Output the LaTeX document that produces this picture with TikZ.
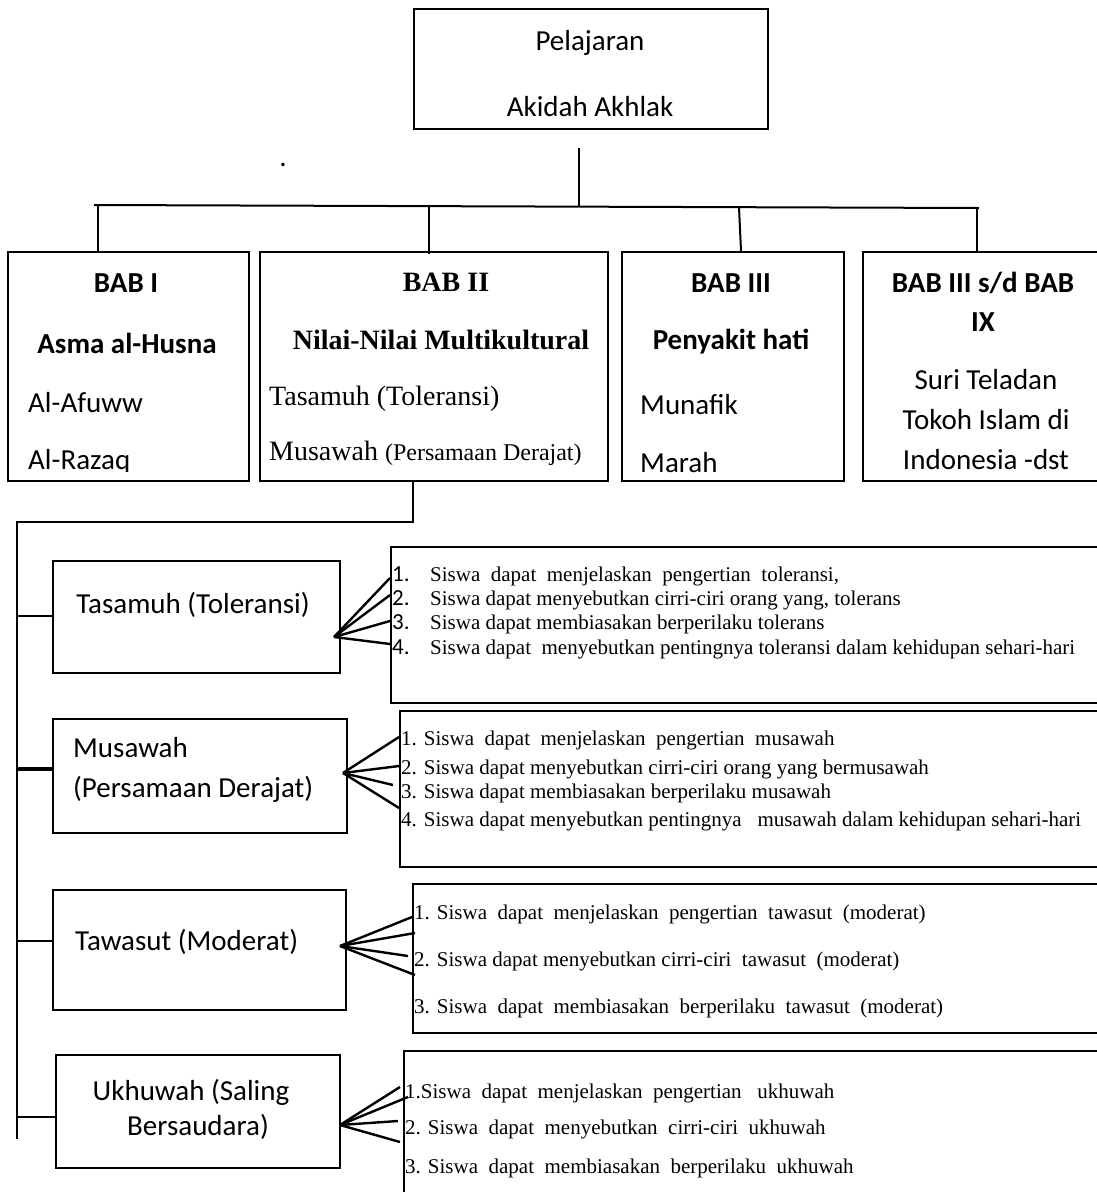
\documentclass[tikz,border=0pt]{standalone}
\usepackage{fontspec}
\setmainfont{Liberation Serif}
\newfontfamily\cali{Carlito}
\usetikzlibrary{positioning}

\tikzset{
	box/.style={draw, line width=2.2pt, anchor=north west, inner sep=0pt},
	sans/.style={font=\cali\fontsize{29}{34}\selectfont, inner sep=0pt},
	sansb/.style={font=\cali\bfseries\fontsize{29}{34}\selectfont, inner sep=0pt},
	rom/.style={font=\fontsize{28}{32}\selectfont, inner sep=0pt},
	romb/.style={font=\bfseries\fontsize{28}{32}\selectfont, inner sep=0pt},
	item/.style={font=\fontsize{21}{24}\selectfont, inner sep=0pt, anchor=base west},
	num/.style={font=\cali\fontsize{23}{26}\selectfont, inner sep=0pt, anchor=base west},
	link/.style={line width=2pt},
	fan/.style={line width=2.4pt}
}

\begin{document}
	\begin{tikzpicture}[x=1pt,y=-1pt]
		\useasboundingbox (0,0) rectangle (1097,1192);
		\node [box, minimum width=354pt, minimum height=120pt] (root) at (413,8) {};
		\node [sans] (root1) at (590,43) {Pelajaran};
		\node [sans] (root2) at (590,107) {Akidah Akhlak};
		\node [sans, anchor=base] (dot) at (283,166) {.};
		
		\node [box, minimum width=241pt, minimum height=229pt] (bab1) at (7,251) {};
		\node [box, minimum width=348pt, minimum height=229pt] (bab2) at (259,251) {};
		\node [box, minimum width=222pt, minimum height=229pt] (bab3) at (621,251) {};
		\node [box, minimum width=250pt, minimum height=229pt] (bab4) at (862,251) {};
		
		\node [sansb] (bab1a) at (126,283) {BAB I};
		\node [sansb] (bab1b) at (127,343) {Asma al-Husna};
		\node [sans, anchor=west] (bab1c) at (28,403) {Al-Afuww};
		\begin{scope}
			\clip (0,440) rectangle (240,471);
			\node [sans, anchor=west] (bab1d) at (28,462) {Al-Razaq};
		\end{scope}
		
		\node [romb] (bab2a) at (446,282) {BAB II};
		\node [romb] (bab2b) at (441,340) {Nilai-Nilai Multikultural};
		\node [rom, anchor=west] (bab2c) at (269,399) {Tasamuh (Toleransi)};
		\node [rom, anchor=west] (bab2d) at (269,453) {Musawah {\fontsize{24}{28}\selectfont(Persamaan Derajat)}};
		
		\node [sansb] (bab3a) at (731,283) {BAB III};
		\node [sansb] (bab3b) at (731,342) {Penyakit hati};
		\node [sans, anchor=west] (bab3c) at (640,405) {Munafik};
		\node [sans, anchor=west] (bab3d) at (640,463) {Marah};
		
		\node [sansb] (bab4a) at (983,283) {BAB III s/d BAB};
		\node [sansb] (bab4b) at (983,322) {IX};
		\node [sans] (bab4c) at (986,380) {Suri Teladan};
		\node [sans] (bab4d) at (986,420) {Tokoh Islam di};
		\node [sans] (bab4e) at (986,460) {Indonesia -dst};
		
		\coordinate (stem) at (579,148);
		\coordinate (stemEnd) at (579,206);
		\coordinate (busL) at (94,205);
		\coordinate (busR) at (979,208);
		\coordinate (d1) at (98,205.5);
		\coordinate (d2) at (429,206.5);
		\coordinate (d3) at (739,207);
		\coordinate (d4) at (977,208);
		\draw [link] (stem) -- (stemEnd);
		\draw [link] (busL) -- (busR);
		\draw [link] (d1) -- (d1 |- bab1.north);
		\draw [link] (d2) -- ([yshift=-3pt]d2 |- bab2.north);
		\draw [link] (d3) -- ([xshift=2pt]d3 |- bab3.north);
		\draw [link] (d4) -- (d4 |- bab4.north);
		
		\coordinate (turn) at (413,522);
		\coordinate (trunk) at (17,522);
		\coordinate (trunkEnd) at (17,1139);
		\draw [link] (turn |- bab2.south) -- (turn) -- (trunk) -- (trunkEnd);
		
		\node [box, minimum width=287pt, minimum height=112pt] (tas) at (52,560) {};
		\node [box, minimum width=294pt, minimum height=114pt] (mus) at (52,718) {};
		\node [box, minimum width=293pt, minimum height=120pt] (taw) at (52,889) {};
		\node [box, minimum width=284pt, minimum height=113pt] (ukh) at (55,1054) {};
		
		\node [sans] (tas1) at (193,605) {Tasamuh (Toleransi)};
		\node [sans, anchor=west] (mus1) at (73,748) {Musawah};
		\node [sans, anchor=west] (mus2) at (73,789) {(Persamaan Derajat)};
		\node [sans, anchor=west] (taw1) at (75,942) {Tawasut (Moderat)};
		\node [sans] (ukh1) at (191,1092) {Ukhuwah (Saling};
		\node [sans] (ukh2) at (198,1127) {Bersaudara)};
		
		\coordinate (t1) at (17,616);
		\coordinate (t2) at (17,769);
		\coordinate (t3) at (17,941);
		\coordinate (t4) at (17,1117);
		\draw [link] (t1) -- (t1 -| tas.west);
		\draw [link, line width=3.6pt] (t2) -- (t2 -| mus.west);
		\draw [link] (t3) -- (t3 -| taw.west);
		\draw [link] (t4) -- (t4 -| ukh.west);
		
		\node [box, minimum width=720pt, minimum height=156pt] (r1) at (390,546) {};
		\node [box, minimum width=720pt, minimum height=156pt] (r2) at (399,710) {};
		\node [box, minimum width=720pt, minimum height=149pt] (r3) at (412,883) {};
		\node [box, minimum width=720pt, minimum height=200pt] (r4) at (403,1050) {};
		
		\node [num] (r1n1) at (392,581) {1.};
		\node [num] (r1n2) at (392,605) {2.};
		\node [num] (r1n3) at (392,629) {3.};
		\node [num] (r1n4) at (392,654) {4.};
		\node [item] (r1i1) at (430,581) {Siswa\ \ dapat\ \ menjelaskan\ \ pengertian\ \ toleransi,};
		\node [item] (r1i2) at (430,605) {Siswa dapat\ menyebutkan cirri-ciri orang yang, tolerans};
		\node [item] (r1i3) at (430,629) {Siswa dapat\ membiasakan berperilaku\ tolerans};
		\node [item] (r1i4) at (430,654) {Siswa dapat\ \ menyebutkan pentingnya toleransi dalam kehidupan sehari-hari};
		
		\node [item] (r2i1) at (401,745) {1. Siswa\ \ dapat\ \ menjelaskan\ \ pengertian\ \ musawah};
		\node [item] (r2i2) at (401,774) {2. Siswa dapat menyebutkan cirri-ciri orang yang bermusawah};
		\node [item] (r2i3) at (401,798) {3. Siswa\ dapat\ membiasakan\ berperilaku\ musawah};
		\node [item] (r2i4) at (401,826) {4. Siswa dapat menyebutkan pentingnya\ \ \ musawah dalam kehidupan sehari-hari};
		
		\node [item] (r3i1) at (414,919) {1. Siswa\ \ dapat\ \ menjelaskan\ \ pengertian\ \ tawasut\ \ (moderat)};
		\node [item] (r3i2) at (414,966) {2. Siswa\ dapat\ menyebutkan\ cirri-ciri\ \ tawasut\ \ (moderat)};
		\node [item] (r3i3) at (414,1013) {3. Siswa\ \ dapat\ \ membiasakan\ \ berperilaku\ \ tawasut\ \ (moderat)};
		
		\node [item] (r4i1) at (405,1098) {1.Siswa\ \ dapat\ \ menjelaskan\ \ pengertian\ \ \ ukhuwah};
		\node [item] (r4i2) at (405,1134) {2. Siswa\ \ dapat\ \ menyebutkan\ \ cirri-ciri\ \ ukhuwah};
		\node [item] (r4i3) at (405,1173) {3. Siswa\ \ dapat\ \ membiasakan\ \ berperilaku\ \ ukhuwah};
		
		\coordinate (a1) at (334,637);
		\coordinate (a2) at (343,773);
		\coordinate (a3) at (340,946);
		\coordinate (a4) at (340,1125);
		\foreach \dx/\y in {0/578,0/595,0/621,0/644}
			\draw [fan] (a1) -- ([xshift=\dx pt]r1.north west |- 0,\y);
		\foreach \dx/\y in {0/737,0/766,-6/785,0/808}
			\draw [fan] (a2) -- ([xshift=\dx pt]r2.north west |- 0,\y);
		\foreach \dx/\y in {0/917,3/933,-4/956,3/975}
			\draw [fan] (a3) -- ([xshift=\dx pt]r3.north west |- 0,\y);
		\foreach \dx/\y in {-3/1087,5/1097,-5/1121,-3/1142}
			\draw [fan] (a4) -- ([xshift=\dx pt]r4.north west |- 0,\y);
	\end{tikzpicture}
\end{document}
